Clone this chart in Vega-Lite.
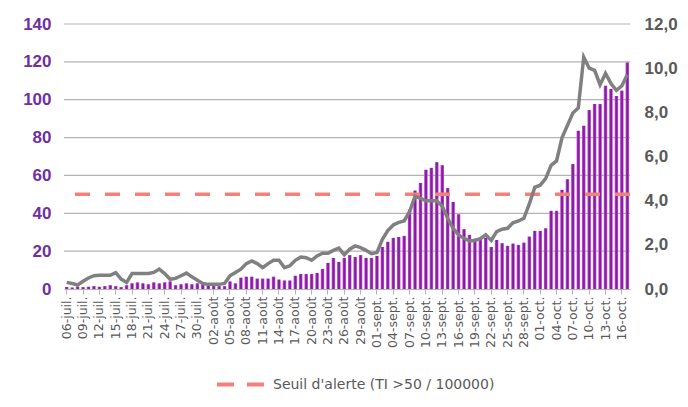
{
  "$schema": "https://vega.github.io/schema/vega-lite/v6.json",
  "autosize": "none",
  "width": 566,
  "height": 265,
  "padding": {"left": 64, "top": 24, "right": 58, "bottom": 118},
  "background": "white",
  "config": {"view": {"stroke": null}, "font": "DejaVu Sans"},
  "data": {"values": [
    {"d":"06-juil.","n":1.0,"ti":0.3},{"d":"07-juil.","n":0.8,"ti":0.25},{"d":"08-juil.","n":1.2,"ti":0.18},{"d":"09-juil.","n":1.0,"ti":0.35},{"d":"10-juil.","n":1.2,"ti":0.5},{"d":"11-juil.","n":1.5,"ti":0.6},{"d":"12-juil.","n":1.2,"ti":0.62},{"d":"13-juil.","n":1.5,"ti":0.62},{"d":"14-juil.","n":2.0,"ti":0.62},{"d":"15-juil.","n":1.5,"ti":0.74},{"d":"16-juil.","n":1.0,"ti":0.45},{"d":"17-juil.","n":2.0,"ti":0.3},{"d":"18-juil.","n":3.0,"ti":0.7},{"d":"19-juil.","n":3.5,"ti":0.7},{"d":"20-juil.","n":3.0,"ti":0.7},{"d":"21-juil.","n":2.5,"ti":0.7},{"d":"22-juil.","n":3.5,"ti":0.75},{"d":"23-juil.","n":3.0,"ti":0.9},{"d":"24-juil.","n":3.5,"ti":0.7},{"d":"25-juil.","n":4.0,"ti":0.44},{"d":"26-juil.","n":2.0,"ti":0.48},{"d":"27-juil.","n":2.5,"ti":0.6},{"d":"28-juil.","n":3.0,"ti":0.72},{"d":"29-juil.","n":2.5,"ti":0.55},{"d":"30-juil.","n":3.0,"ti":0.4},{"d":"31-juil.","n":3.5,"ti":0.25},
    {"d":"01-août","n":3.0,"ti":0.21},{"d":"02-août","n":2.0,"ti":0.21},{"d":"03-août","n":1.5,"ti":0.21},{"d":"04-août","n":1.5,"ti":0.25},{"d":"05-août","n":4.0,"ti":0.6},{"d":"06-août","n":3.0,"ti":0.75},{"d":"07-août","n":6.0,"ti":0.9},{"d":"08-août","n":6.5,"ti":1.15},{"d":"09-août","n":6.5,"ti":1.27},{"d":"10-août","n":5.5,"ti":1.15},{"d":"11-août","n":5.5,"ti":0.97},{"d":"12-août","n":5.5,"ti":1.15},{"d":"13-août","n":6.5,"ti":1.3},{"d":"14-août","n":5.0,"ti":1.3},{"d":"15-août","n":4.5,"ti":0.97},{"d":"16-août","n":4.5,"ti":1.05},{"d":"17-août","n":7.0,"ti":1.3},{"d":"18-août","n":7.9,"ti":1.45},{"d":"19-août","n":7.9,"ti":1.42},{"d":"20-août","n":7.9,"ti":1.3},{"d":"21-août","n":8.5,"ti":1.5},{"d":"22-août","n":10.6,"ti":1.62},{"d":"23-août","n":13.8,"ti":1.62},{"d":"24-août","n":16.4,"ti":1.75},{"d":"25-août","n":14.3,"ti":1.85},{"d":"26-août","n":16.4,"ti":1.55},{"d":"27-août","n":17.9,"ti":1.8},{"d":"28-août","n":16.9,"ti":1.95},{"d":"29-août","n":17.9,"ti":1.87},{"d":"30-août","n":16.4,"ti":1.75},{"d":"31-août","n":16.4,"ti":1.6},
    {"d":"01-sept.","n":17.5,"ti":1.65},{"d":"02-sept.","n":22.2,"ti":2.25},{"d":"03-sept.","n":24.9,"ti":2.65},{"d":"04-sept.","n":27,"ti":2.9},{"d":"05-sept.","n":27.5,"ti":3.02},{"d":"06-sept.","n":28,"ti":3.08},{"d":"07-sept.","n":42,"ti":3.5},{"d":"08-sept.","n":52,"ti":4.2},{"d":"09-sept.","n":56,"ti":4.1},{"d":"10-sept.","n":63,"ti":4.0},{"d":"11-sept.","n":64,"ti":4.0},{"d":"12-sept.","n":67,"ti":4.0},{"d":"13-sept.","n":65.4,"ti":3.75},{"d":"14-sept.","n":53.3,"ti":3.2},{"d":"15-sept.","n":46,"ti":2.75},{"d":"16-sept.","n":39.5,"ti":2.45},{"d":"17-sept.","n":31.6,"ti":2.3},{"d":"18-sept.","n":28.6,"ti":2.18},{"d":"19-sept.","n":26.6,"ti":2.2},{"d":"20-sept.","n":27.2,"ti":2.28},{"d":"21-sept.","n":27,"ti":2.45},{"d":"22-sept.","n":22.2,"ti":2.2},{"d":"23-sept.","n":25.9,"ti":2.6},{"d":"24-sept.","n":24.2,"ti":2.71},{"d":"25-sept.","n":22.8,"ti":2.75},{"d":"26-sept.","n":24,"ti":3.0},{"d":"27-sept.","n":23.3,"ti":3.08},{"d":"28-sept.","n":24.5,"ti":3.2},{"d":"29-sept.","n":27.7,"ti":3.85},{"d":"30-sept.","n":30.7,"ti":4.6},
    {"d":"01-oct.","n":30.7,"ti":4.7},{"d":"02-oct.","n":32.1,"ti":5.0},{"d":"03-oct.","n":41.3,"ti":5.6},{"d":"04-oct.","n":41.3,"ti":5.8},{"d":"05-oct.","n":52.4,"ti":6.85},{"d":"06-oct.","n":58,"ti":7.4},{"d":"07-oct.","n":66,"ti":7.97},{"d":"08-oct.","n":83.6,"ti":8.2},{"d":"09-oct.","n":86.2,"ti":10.5},{"d":"10-oct.","n":94.5,"ti":10.0},{"d":"11-oct.","n":97.7,"ti":9.9},{"d":"12-oct.","n":97.7,"ti":9.25},{"d":"13-oct.","n":107.4,"ti":9.76},{"d":"14-oct.","n":105.7,"ti":9.3},{"d":"15-oct.","n":102,"ti":9.0},{"d":"16-oct.","n":104.8,"ti":9.2},{"d":"17-oct.","n":119.7,"ti":9.7}
  ]},
  "layer": [
    {
      "data": {"values": [{"g": 20}, {"g": 40}, {"g": 60}, {"g": 80}, {"g": 100}, {"g": 120}, {"g": 140}]},
      "mark": {"type": "rule", "color": "#B4B4B4", "strokeWidth": 1.2},
      "encoding": {
        "y": {"field": "g", "type": "quantitative", "scale": {"domain": [0, 140], "nice": false}, "axis": null}
      }
    },
    {
      "mark": {"type": "bar", "color": {"gradient": "linear", "x1": 0, "y1": 0, "x2": 1, "y2": 0, "stops": [
        {"offset": 0, "color": "#D35CDC"}, {"offset": 0.35, "color": "#8C22A8"}, {"offset": 0.65, "color": "#7A1E9E"}, {"offset": 1, "color": "#D35CDC"}]}},
      "encoding": {
        "x": {"field": "d", "type": "nominal", "sort": null,
          "scale": {"paddingInner": 0.35, "paddingOuter": 0.175},
          "axis": {"title": null, "labelAngle": 270, "labelFont": "DejaVu Sans", "labelFontSize": 12.5, "labelColor": "#595959",
            "domainColor": "#B4B4B4", "tickColor": "#B4B4B4", "tickSize": 5, "labelPadding": 2, "grid": false,
            "values": ["06-juil.","09-juil.","12-juil.","15-juil.","18-juil.","21-juil.","24-juil.","27-juil.","30-juil.","02-août","05-août","08-août","11-août","14-août","17-août","20-août","23-août","26-août","29-août","01-sept.","04-sept.","07-sept.","10-sept.","13-sept.","16-sept.","19-sept.","22-sept.","25-sept.","28-sept.","01-oct.","04-oct.","07-oct.","10-oct.","13-oct.","16-oct."]}},
        "y": {"field": "n", "type": "quantitative", "scale": {"domain": [0, 140], "nice": false},
          "axis": {"title": null, "values": [0,20,40,60,80,100,120,140], "grid": false, "domain": false, "ticks": false,
            "labelOverlap": false, "labelFlush": false, "labelBound": false,
            "labelPadding": 13, "labelFont": "Liberation Sans", "labelFontSize": 17, "labelFontWeight": "bold", "labelColor": "#70309F"}}
      }
    },
    {
      "data": {"values": [{}]},
      "mark": {"type": "rule", "strokeDash": [15, 15], "strokeWidth": 3.5},
      "encoding": {
        "y": {"datum": 50, "type": "quantitative", "scale": {"domain": [0, 140], "nice": false}, "axis": null},
        "color": {"datum": "Seuil d'alerte (TI >50 / 100000)", "type": "nominal", "scale": {"range": ["#F4807C"]},
          "legend": {"title": null, "orient": "none", "legendX": 151, "legendY": 335, "symbolType": "stroke", "symbolSize": 2209,
            "symbolStrokeWidth": 4, "symbolDash": [17, 13], "labelFont": "DejaVu Sans", "labelFontSize": 14, "labelColor": "#595959",
            "labelOffset": 7, "labelLimit": 500}}
      }
    },
    {
      "mark": {"type": "line", "color": "#808080", "strokeWidth": 3.5},
      "encoding": {
        "x": {"field": "d", "type": "nominal", "sort": null},
        "y": {"field": "ti", "type": "quantitative", "scale": {"domain": [0, 12], "nice": false},
          "axis": {"orient": "right", "title": null, "values": [0,2,4,6,8,10,12], "grid": false, "domain": false, "ticks": false,
            "labelOverlap": false, "labelFlush": false, "labelBound": false,
            "labelPadding": 14, "labelFont": "Liberation Sans", "labelFontSize": 17, "labelFontWeight": "bold", "labelColor": "#595959",
            "labelExpr": "replace(format(datum.value, '.1f'), '.', ',')"}}
      }
    }
  ],
  "resolve": {"scale": {"y": "independent"}}
}
